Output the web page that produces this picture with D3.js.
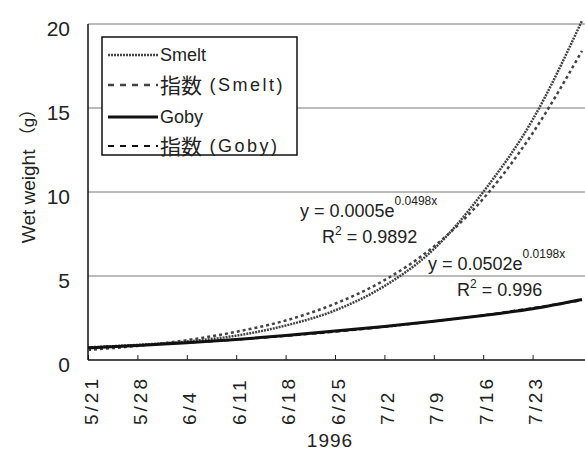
<!DOCTYPE html>
<html>
<head>
<meta charset="utf-8">
<script src="https://cdn.jsdelivr.net/npm/d3@7"></script>
<style>
  body { margin: 0; background: #fff; }
  svg { font-family: "Liberation Sans", Arial, "Noto Sans CJK JP", sans-serif; }
</style>
</head>
<body>
<div id="chart"></div>
<script>
// weekly readings (g), 1996
var dates = ["1996-05-21", "1996-05-28", "1996-06-04", "1996-06-11", "1996-06-18", "1996-06-25",
             "1996-07-02", "1996-07-09", "1996-07-16", "1996-07-23", "1996-07-30"];
var smelt    = [0.75, 0.9, 1.1, 1.45, 2.05, 2.95, 4.4, 6.6, 10.0, 14.3, 20.2];
var smeltFit = [0.6, 0.84, 1.18, 1.68, 2.35, 3.35, 4.75, 6.75, 9.6, 13.5, 18.4];
var goby     = [0.72, 0.86, 1.02, 1.22, 1.46, 1.72, 2.0, 2.3, 2.65, 3.05, 3.6];
var gobyFit  = [0.75, 0.88, 1.03, 1.21, 1.43, 1.68, 1.97, 2.3, 2.66, 3.1, 3.55];
var tickLabels = ["5/21", "5/28", "6/4", "6/11", "6/18", "6/25", "7/2", "7/9", "7/16", "7/23"];
var yTicks = [0, 5, 10, 15, 20];
var legendNames = ["Smelt", "Smelt", "Goby", "Goby"];

var width = 585,
    height = 452,
    margin = { top: 24, right: 3, bottom: 92, left: 88 };

var parse = d3.timeParse("%Y-%m-%d");
var days = dates.map(parse);

var svg = d3.select("#chart").append("svg")
    .attr("width", width)
    .attr("height", height);

var x = d3.scaleTime()
    .domain([days[0], days[days.length - 1]])
    .range([margin.left, width - margin.right]);

var y = d3.scaleLinear()
    .domain([0, 20])
    .range([height - margin.bottom, margin.top]);

// gridlines
svg.append("g")
    .selectAll("line")
    .data(yTicks.slice(1))
    .enter()
    .append("line")
    .attr("x1", margin.left)
    .attr("x2", width)
    .attr("y1", d => y(d))
    .attr("y2", d => y(d))
    .style("stroke", "#777")
    .style("stroke-width", 1);

// y tick labels
svg.append("g")
    .selectAll("text")
    .data(yTicks)
    .enter()
    .append("text")
    .attr("x", 70)
    .attr("y", d => y(d) + 4)
    .attr("text-anchor", "end")
    .attr("dominant-baseline", "central")
    .style("font-size", "21px")
    .style("fill", "#222")
    .text(d => d);

// x axis with inward ticks
var tickDays = days.slice(0, tickLabels.length);
var xAxis = svg.append("g")
    .attr("transform", "translate(0," + y(0) + ")")
    .call(d3.axisBottom(x).tickValues(tickDays).tickSizeInner(-5).tickSizeOuter(0).tickFormat(""));
xAxis.select(".domain").attr("d", "M" + margin.left + ",0H" + width).style("stroke", "#111").style("stroke-width", 1.5);
xAxis.selectAll(".tick line").style("stroke", "#222");

svg.append("line")
    .attr("x1", margin.left).attr("x2", margin.left)
    .attr("y1", y(20)).attr("y2", y(0))
    .style("stroke", "#111")
    .style("stroke-width", 1.5);

svg.append("g")
    .selectAll("text")
    .data(tickDays)
    .enter()
    .append("text")
    .attr("transform", (d, i) => "translate(" + (x(d) + 3) + ",425) rotate(-90)")
    .attr("text-anchor", "start")
    .attr("dominant-baseline", "central")
    .style("font-size", "19px")
    .style("letter-spacing", "3px")
    .style("fill", "#222")
    .text((d, i) => tickLabels[i]);

svg.append("text")
    .attr("x", 330)
    .attr("y", 447)
    .attr("text-anchor", "middle")
    .style("font-size", "19px")
    .style("letter-spacing", "1px")
    .style("fill", "#222")
    .text("1996");

var yTitle = svg.append("text")
    .attr("transform", "translate(28,172) rotate(-90)")
    .attr("text-anchor", "middle")
    .attr("dominant-baseline", "central")
    .style("font-size", "19px")
    .style("fill", "#222");
yTitle.append("tspan").text("Wet weight ");
yTitle.append("tspan").style("font-size", "17px").text("（g）");

// series
var series = [
    { values: smeltFit, color: "#444", width: 2.5, dash: "3,3" },
    { values: smelt, color: "#444", width: 2.5, dash: "2,1" },
    { values: gobyFit, color: "#111", width: 2, dash: "5,3" },
    { values: goby, color: "#111", width: 3, dash: null }
];

var line = d3.line()
    .x((d, i) => x(days[i]))
    .y(d => y(d))
    .curve(d3.curveMonotoneX);

svg.append("g")
    .selectAll("path")
    .data(series)
    .enter()
    .append("path")
    .attr("d", d => line(d.values))
    .style("fill", "none")
    .style("stroke", d => d.color)
    .style("stroke-width", d => d.width)
    .style("stroke-dasharray", d => d.dash);

// equations
function equation(g, xPos, yPos, main, sup, r2, r2x) {
    var t = g.append("text")
        .attr("x", xPos)
        .attr("y", yPos)
        .style("font-size", "18px")
        .style("fill", "#222");
    t.append("tspan").text(main);
    t.append("tspan").attr("dy", -12).style("font-size", "12px").text(sup);

    var r = g.append("text")
        .attr("x", r2x)
        .attr("y", yPos + 26)
        .style("font-size", "18px")
        .style("fill", "#222");
    r.append("tspan").text("R");
    r.append("tspan").attr("dy", -8).style("font-size", "12px").text("2");
    r.append("tspan").attr("dy", 8).text(" = " + r2);
}
var eq = svg.append("g");
equation(eq, 300, 217, "y = 0.0005e", "0.0498x", "0.9892", 322);
equation(eq, 428, 270, "y = 0.0502e", "0.0198x", "0.996", 457);

// legend
var legend = svg.append("g");
legend.append("rect")
    .attr("x", 102)
    .attr("y", 37)
    .attr("width", 195)
    .attr("height", 118)
    .style("fill", "#fff")
    .style("stroke", "#111")
    .style("stroke-width", 1.5);

var legendRows = [55, 85, 117, 146];
legendNames.forEach(function (name, i) {
    var s = [series[1], series[0], series[3], series[2]][i];
    legend.append("line")
        .attr("x1", 108).attr("x2", 158)
        .attr("y1", legendRows[i]).attr("y2", legendRows[i])
        .style("stroke", s.color)
        .style("stroke-width", s.width)
        .style("stroke-dasharray", s.dash ? (i % 2 ? "6,6" : "2,1") : null);
    var t = legend.append("text")
        .attr("x", 160)
        .attr("y", legendRows[i])
        .attr("dominant-baseline", "central")
        .style("font-size", "18px")
        .style("fill", "#222");
    if (i % 2) {
        t.append("tspan").style("font-size", "21px").text("指数");
        t.append("tspan").style("letter-spacing", "2.5px").text(" (" + name + ")");
    } else {
        t.text(name);
    }
});
</script>
</body>
</html>
